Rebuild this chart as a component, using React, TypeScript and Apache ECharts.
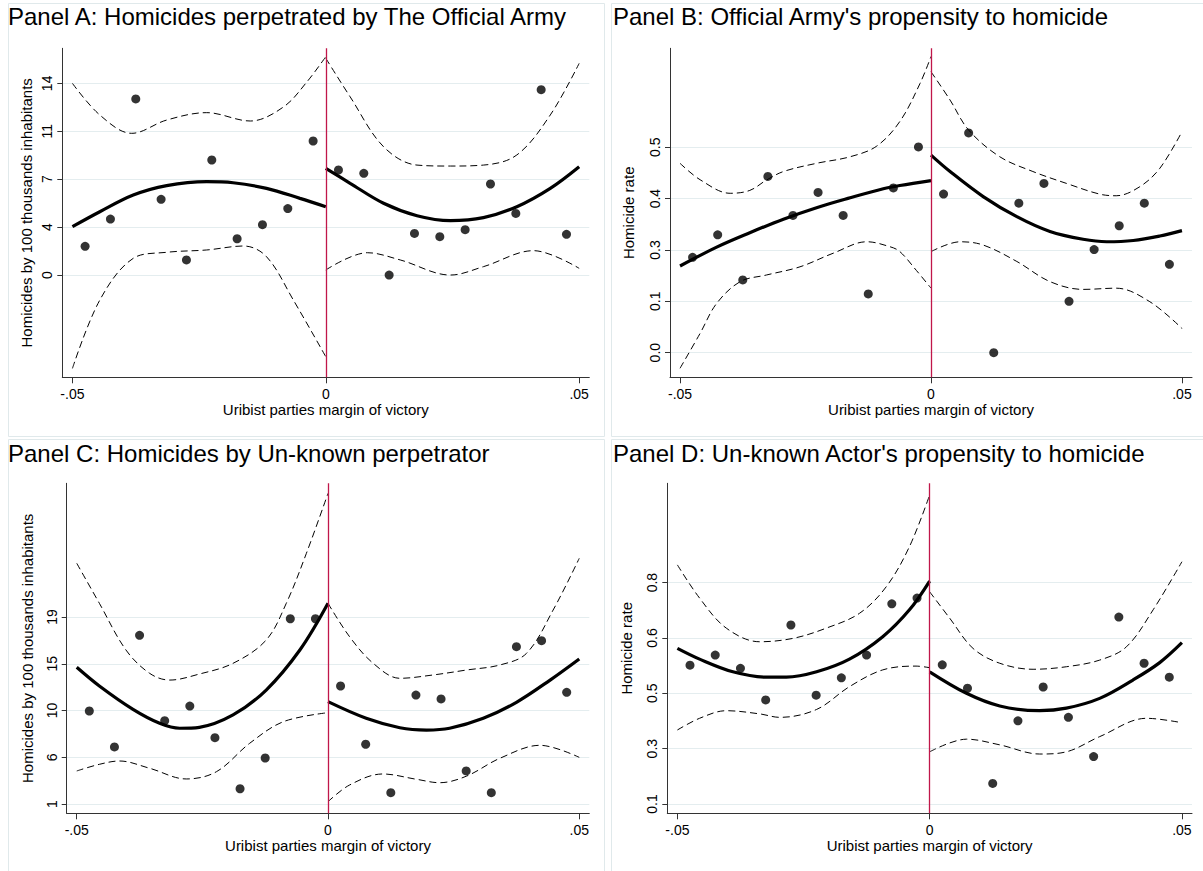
import React, { useEffect, useRef } from 'react';
import * as echarts from 'echarts';

// ---------- DATA ----------
const binMid = [-0.0475, -0.0425, -0.0375, -0.0325, -0.0275, -0.0225, -0.0175, -0.0125, -0.0075, -0.0025,
  0.0025, 0.0075, 0.0125, 0.0175, 0.0225, 0.0275, 0.0325, 0.0375, 0.0425, 0.0475];

const xTickValues = [-0.05, 0, 0.05];
const xTickLabels = ['-.05', '0', '.05'];
const xAxisTitle = 'Uribist parties margin of victory';

const panelTitles = [
  'Panel A: Homicides perpetrated by The Official Army',
  "Panel B: Official Army's propensity to homicide",
  'Panel C: Homicides by Un-known perpetrator',
  "Panel D: Un-known Actor's propensity to homicide",
];
const yAxisTitles = [
  'Homicides by 100 thousands inhabitants',
  'Homicide rate',
  'Homicides by 100 thousands inhabitants',
  'Homicide rate',
];

// Panel A
const aYTicks = [0, 3.5, 7, 10.5, 14];
const aYLabels = ['0', '4', '7', '11', '14'];
const aPts = [2.10, 4.09, 12.86, 5.53, 1.10, 8.40, 2.65, 3.68, 4.85, 9.79, 7.67, 7.43, 0.0, 3.04, 2.80, 3.31, 6.65, 4.50, 13.54, 2.97];
const aFitL = [[-0.05, 3.53], [-0.0446, 4.62], [-0.038, 5.84], [-0.0314, 6.53], [-0.0235, 6.82], [-0.0183, 6.74], [-0.0117, 6.33], [-0.0051, 5.60], [0, 4.99]];
const aFitR = [[0, 7.79], [0.0048, 6.70], [0.0114, 5.24], [0.018, 4.33], [0.0246, 3.97], [0.0311, 4.19], [0.0377, 4.99], [0.0443, 6.33], [0.05, 7.91]];
const aUpL = [[-0.05, 14.0], [-0.0446, 11.69], [-0.0383, 10.35], [-0.0314, 11.32], [-0.0235, 11.86], [-0.0149, 11.25], [-0.0083, 12.29], [-0.0037, 14.12], [0, 15.95]];
const aLoL = [[-0.05, -6.82], [-0.0446, -1.83], [-0.038, 1.22], [-0.0314, 1.66], [-0.0235, 1.83], [-0.0162, 2.12], [-0.0117, 1.34], [-0.0064, -1.83], [0, -5.97]];
const aUpR = [[0, 15.83], [0.0048, 13.02], [0.0114, 9.37], [0.018, 8.03], [0.0246, 7.96], [0.0311, 8.03], [0.0377, 8.77], [0.0443, 11.69], [0.05, 15.46]];
const aLoR = [[0, 0.37], [0.0082, 1.63], [0.0147, 1.10], [0.0246, 0.0], [0.0311, 0.61], [0.041, 1.78], [0.05, 0.49]];

// Panel B
const bYTicks = [0, 0.125, 0.25, 0.375, 0.5];
const bYLabels = ['0.0', '0.1', '0.3', '0.4', '0.5'];
const bPts = [0.232, 0.287, 0.177, 0.429, 0.334, 0.390, 0.334, 0.143, 0.401, 0.501, 0.386, 0.535, 0.0, 0.364, 0.412, 0.125, 0.251, 0.309, 0.364, 0.215];
const bFitL = [[-0.05, 0.211], [-0.0427, 0.257], [-0.0361, 0.292], [-0.0294, 0.325], [-0.0228, 0.353], [-0.0161, 0.377], [-0.0095, 0.399], [-0.0062, 0.407], [0, 0.419]];
const bFitR = [[0, 0.481], [0.0038, 0.441], [0.0104, 0.380], [0.0171, 0.331], [0.0237, 0.295], [0.0303, 0.276], [0.035, 0.270], [0.0403, 0.273], [0.0456, 0.284], [0.05, 0.297]];
const bUpL = [[-0.05, 0.461], [-0.046, 0.421], [-0.04, 0.388], [-0.0361, 0.395], [-0.0328, 0.420], [-0.0294, 0.441], [-0.0228, 0.461], [-0.0161, 0.477], [-0.0108, 0.503], [-0.0062, 0.563], [-0.0022, 0.655], [0, 0.721]];
const bLoL = [[-0.05, -0.038], [-0.046, 0.047], [-0.0427, 0.120], [-0.038, 0.173], [-0.0328, 0.189], [-0.0261, 0.209], [-0.0195, 0.242], [-0.0128, 0.270], [-0.0082, 0.258], [-0.0062, 0.246], [-0.0029, 0.20], [0, 0.157]];
const bUpR = [[0, 0.684], [0.0038, 0.615], [0.0075, 0.542], [0.0137, 0.477], [0.0203, 0.441], [0.027, 0.412], [0.0336, 0.386], [0.0369, 0.382], [0.0416, 0.404], [0.0456, 0.449], [0.05, 0.538]];
const bLoR = [[0, 0.246], [0.0058, 0.270], [0.0104, 0.262], [0.0171, 0.222], [0.0237, 0.173], [0.0303, 0.154], [0.0369, 0.157], [0.0436, 0.124], [0.05, 0.059]];

// Panel C
const cYTicks = [1, 5.5, 10, 14.5, 19];
const cYLabels = ['1', '6', '10', '15', '19'];
const cPts = [9.95, 6.49, 17.24, 9.02, 10.43, 7.38, 2.47, 5.43, 18.83, 18.83, 12.36, 6.75, 2.09, 11.49, 11.11, 4.18, 2.09, 16.14, 16.72, 11.75];
const cFitL = [[-0.05, 14.16], [-0.0455, 12.36], [-0.0388, 10.11], [-0.0335, 8.77], [-0.0295, 8.29], [-0.0256, 8.38], [-0.0189, 9.57], [-0.0123, 11.97], [-0.0056, 15.82], [0, 20.32]];
const cFitR = [[0, 10.85], [0.0076, 9.25], [0.0143, 8.34], [0.0196, 8.12], [0.0242, 8.29], [0.0309, 9.25], [0.0375, 10.79], [0.0442, 12.93], [0.05, 14.96]];
const cUpL = [[-0.05, 24.17], [-0.0455, 20.32], [-0.0402, 15.82], [-0.0355, 13.58], [-0.0315, 12.93], [-0.0256, 13.51], [-0.0189, 14.54], [-0.0123, 16.78], [-0.0083, 20.32], [-0.0043, 25.13], [0, 30.90]];
const cLoL = [[-0.05, 4.18], [-0.0455, 4.82], [-0.0415, 5.14], [-0.0355, 4.44], [-0.0282, 3.41], [-0.0222, 4.11], [-0.0156, 6.84], [-0.0089, 8.92], [0, 9.79]];
const cUpR = [[0, 20.32], [0.0043, 17.10], [0.009, 14.54], [0.0143, 13.10], [0.0209, 13.42], [0.0276, 13.90], [0.0342, 14.38], [0.0395, 15.50], [0.0448, 19.67], [0.05, 24.65]];
const cLoR = [[0, 1.22], [0.0043, 2.83], [0.0109, 3.89], [0.0176, 3.38], [0.0222, 3.05], [0.0276, 3.69], [0.0342, 5.40], [0.0422, 6.65], [0.05, 5.49]];

// Panel D
const dYTicks = [0.1, 0.275, 0.45, 0.625, 0.8];
const dYLabels = ['0.1', '0.3', '0.5', '0.6', '0.8'];
const dPts = [0.539, 0.571, 0.529, 0.429, 0.666, 0.444, 0.499, 0.571, 0.733, 0.751, 0.540, 0.466, 0.165, 0.363, 0.470, 0.374, 0.250, 0.691, 0.545, 0.501];
const dFitL = [[-0.05, 0.592], [-0.0456, 0.558], [-0.039, 0.518], [-0.0324, 0.501], [-0.0284, 0.501], [-0.0224, 0.518], [-0.0159, 0.558], [-0.0093, 0.629], [-0.004, 0.714], [0, 0.805]];
const dFitR = [[0, 0.518], [0.0073, 0.450], [0.0139, 0.410], [0.0218, 0.395], [0.0271, 0.403], [0.0337, 0.434], [0.0403, 0.492], [0.0456, 0.547], [0.05, 0.610]];
const dUpL = [[-0.05, 0.856], [-0.0456, 0.751], [-0.0403, 0.656], [-0.0337, 0.613], [-0.027, 0.624], [-0.0205, 0.656], [-0.0139, 0.703], [-0.0086, 0.787], [-0.004, 0.914], [0, 1.077]];
const dLoL = [[-0.05, 0.334], [-0.0456, 0.371], [-0.0403, 0.395], [-0.0337, 0.385], [-0.0297, 0.374], [-0.0224, 0.399], [-0.0159, 0.471], [-0.0093, 0.524], [-0.0027, 0.536], [0, 0.531]];
const dUpR = [[0, 0.771], [0.004, 0.687], [0.0086, 0.592], [0.0139, 0.545], [0.0205, 0.526], [0.0271, 0.534], [0.0337, 0.555], [0.039, 0.597], [0.0443, 0.714], [0.05, 0.866]];
const dLoR = [[0, 0.265], [0.0073, 0.305], [0.0139, 0.287], [0.0218, 0.258], [0.0271, 0.265], [0.0337, 0.313], [0.043, 0.371], [0.05, 0.357]];

// ---------- LAYOUT / STYLE ----------
const FONT = '"Liberation Sans", Arial, Helvetica, sans-serif';
const RED = '#c0174a';
const GRID_COLOR = '#e4edef';
const FRAME_COLOR = '#e0e9eb';

const panels = [
  { grid: { left: 62.3, top: 48.3, width: 527, height: 329 }, yMin: -7.47, yMax: 16.56, ticks: aYTicks, labels: aYLabels, pts: aPts, curves: [aFitL, aFitR, aUpL, aLoL, aUpR, aLoR], nameGap: 28, title: { left: 8, top: 4 }, frame: [8.5, 3.5, 596, 433] },
  { grid: { left: 670, top: 48.3, width: 522, height: 329 }, yMin: -0.06, yMax: 0.741, ticks: bYTicks, labels: bYLabels, pts: bPts, curves: [bFitL, bFitR, bUpL, bLoL, bUpR, bLoR], nameGap: 34, title: { left: 613, top: 4 }, frame: [611.5, 3.5, 595, 433] },
  { grid: { left: 66.7, top: 483.3, width: 522.6, height: 330 }, yMin: 0.105, yMax: 31.87, ticks: cYTicks, labels: cYLabels, pts: cPts, curves: [cFitL, cFitR, cUpL, cLoL, cUpR, cLoR], nameGap: 32, title: { left: 8, top: 441 }, frame: [8.5, 439.5, 596, 433] },
  { grid: { left: 667.3, top: 483.3, width: 524.7, height: 330 }, yMin: 0.0706, yMax: 1.114, ticks: dYTicks, labels: dYLabels, pts: dPts, curves: [dFitL, dFitR, dUpL, dLoL, dUpR, dLoR], nameGap: 33, title: { left: 613, top: 441 }, frame: [611.5, 439.5, 595, 433] },
];

function labelFor(ticks: number[], labels: string[]) {
  return (v: number) => {
    const i = ticks.findIndex((t) => Math.abs(t - v) < 1e-9);
    return i >= 0 ? labels[i] : '';
  };
}

function buildOption() {
  const grid: any[] = [];
  const xAxis: any[] = [];
  const yAxis: any[] = [];
  const series: any[] = [];
  const title: any[] = [];
  const graphic: any[] = [];

  panels.forEach((p, i) => {
    grid.push({ ...p.grid, containLabel: false });
    title.push({
      text: panelTitles[i], left: p.title.left, top: p.title.top, padding: 0,
      textStyle: { fontFamily: FONT, fontSize: 24, fontWeight: 'normal', color: '#000' },
    });
    graphic.push({
      type: 'rect', silent: true, z: -10,
      shape: { x: p.frame[0], y: p.frame[1], width: p.frame[2], height: p.frame[3] },
      style: { fill: 'none', stroke: FRAME_COLOR, lineWidth: 1 },
    });
    xAxis.push({
      type: 'value', gridIndex: i, min: -0.052, max: 0.052,
      name: xAxisTitle, nameLocation: 'middle', nameGap: 25,
      nameTextStyle: { fontFamily: FONT, fontSize: 15, color: '#000' },
      axisLine: { show: true, onZero: false, lineStyle: { color: '#333', width: 1 } },
      axisTick: { show: true, length: 6, customValues: xTickValues, lineStyle: { color: '#333' } },
      axisLabel: { customValues: xTickValues, formatter: labelFor(xTickValues, xTickLabels), fontFamily: FONT, fontSize: 14, color: '#000', margin: 10 },
      splitLine: { show: false },
    });
    yAxis.push({
      type: 'value', gridIndex: i, min: p.yMin, max: p.yMax,
      name: yAxisTitles[i], nameLocation: 'middle', nameGap: p.nameGap,
      nameTextStyle: { fontFamily: FONT, fontSize: 15, color: '#000' },
      axisLine: { show: true, onZero: false, lineStyle: { color: '#333', width: 1 } },
      axisTick: { show: true, length: 5, customValues: p.ticks, lineStyle: { color: '#333' } },
      axisLabel: { customValues: p.ticks, rotate: 90, formatter: labelFor(p.ticks, p.labels), fontFamily: FONT, fontSize: 14, color: '#000', margin: 8 },
      splitLine: { show: true, lineStyle: { color: GRID_COLOR, width: 1 } },
    });
    series.push({
      type: 'scatter', xAxisIndex: i, yAxisIndex: i, symbol: 'circle', symbolSize: 9,
      itemStyle: { color: '#000' }, z: 5,
      data: binMid.map((x, k) => [x, p.pts[k]]),
      markLine: {
        silent: true, symbol: ['none', 'none'], label: { show: false },
        lineStyle: { color: RED, width: 1.3, type: 'solid' },
        emphasis: { disabled: true },
        data: [{ xAxis: 0 }],
      },
    });
    p.curves.forEach((c, k) => {
      const solid = k < 2;
      series.push({
        type: 'line', xAxisIndex: i, yAxisIndex: i, data: c, smooth: 0.35,
        symbol: 'none', showSymbol: false, z: solid ? 4 : 3,
        lineStyle: solid ? { color: '#000', width: 3.2 } : { color: '#000', width: 1, type: [7, 4] },
        emphasis: { disabled: true },
      });
    });
  });

  return { animation: false, backgroundColor: '#fff', title, grid, xAxis, yAxis, series, graphic };
}

export default function App() {
  const ref = useRef<HTMLDivElement>(null);
  useEffect(() => {
    if (!ref.current) return;
    const chart = echarts.init(ref.current, undefined, { renderer: 'svg' });
    chart.setOption(buildOption() as any);
    return () => chart.dispose();
  }, []);
  return <div ref={ref} style={{ position: 'absolute', left: 0, top: 0, width: 1203, height: 871 }} />;
}
